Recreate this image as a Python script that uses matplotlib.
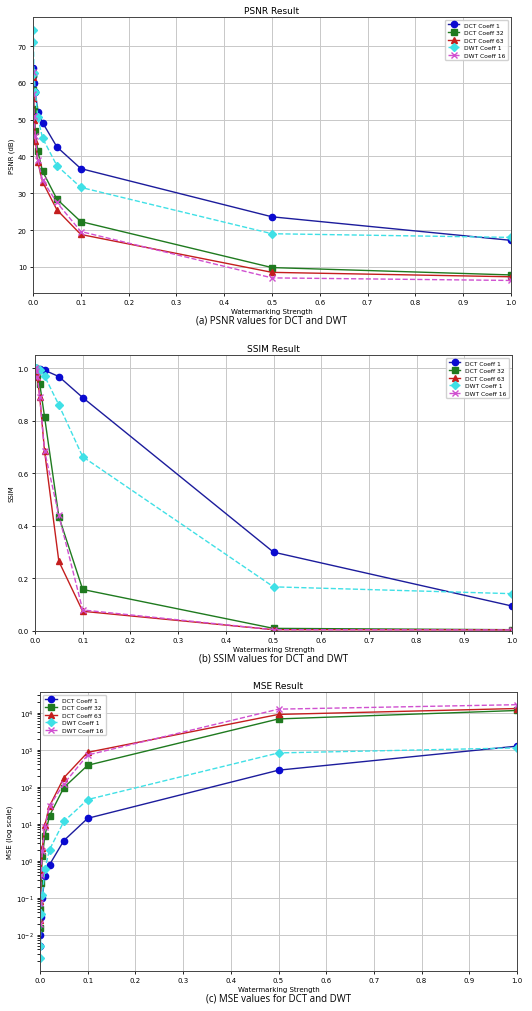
import matplotlib
matplotlib.use("Agg")
import matplotlib.pyplot as plt

# ===== DU LIEU =====
strengths = [0.0005, 0.001, 0.002, 0.005, 0.01, 0.02, 0.05, 0.1, 0.5, 1.0]
labels = ["DCT Coeff 1", "DCT Coeff 32", "DCT Coeff 63", "DWT Coeff 1", "DWT Coeff 16"]

psnr_dct1 = [64.0, 62.0, 60.0, 57.5, 52.2, 49.2, 42.6, 36.7, 23.6, 17.2]
psnr_dct32 = [62.5, 58.0, 53.0, 47.0, 41.4, 36.0, 28.4, 22.3, 9.8, 7.8]
psnr_dct63 = [61.5, 56.0, 50.0, 44.3, 38.5, 33.1, 25.5, 18.8, 8.5, 7.3]
psnr_dwt1 = [74.5, 71.2, 62.6, 57.6, 50.6, 45.0, 37.5, 31.6, 19.0, 18.0]
psnr_dwt16 = [63.0, 57.0, 51.0, 45.5, 39.0, 33.5, 27.5, 19.6, 7.0, 6.3]

ssim_dct1 = [1.0, 1.0, 0.999, 0.998, 0.996, 0.992, 0.968, 0.888, 0.300, 0.095]
ssim_dct32 = [0.999, 0.998, 0.992, 0.975, 0.940, 0.815, 0.435, 0.158, 0.010, 0.005]
ssim_dct63 = [0.999, 0.995, 0.985, 0.965, 0.890, 0.685, 0.265, 0.075, 0.005, 0.004]
ssim_dwt1 = [1.0, 1.0, 0.999, 0.998, 0.993, 0.970, 0.860, 0.663, 0.168, 0.142]
ssim_dwt16 = [0.999, 0.996, 0.988, 0.968, 0.890, 0.685, 0.440, 0.080, 0.005, 0.004]

mse_dct1 = [0.005, 0.01, 0.03, 0.1, 0.38, 0.78, 3.5, 14.0, 280.0, 1250.0]
mse_dct32 = [0.015, 0.05, 0.25, 1.3, 4.6, 16.5, 95.0, 380.0, 6800.0, 11500.0]
mse_dct63 = [0.025, 0.08, 0.5, 2.2, 9.0, 30.0, 175.0, 850.0, 9000.0, 13000.0]
mse_dwt1 = [0.0023, 0.005, 0.036, 0.115, 0.58, 2.0, 11.5, 45.0, 820.0, 1120.0]
mse_dwt16 = [0.02, 0.07, 0.4, 1.8, 8.0, 30.0, 120.0, 720.0, 12500.0, 16500.0]
mse_ticks = [1e-2, 1e-1, 1e0, 1e1, 1e2, 1e3, 1e4]

# ===== KIEU DUONG =====
styles = [
    dict(color="#1c1c9c", marker="o", linestyle="-", markerfacecolor="#0a0ad0", markeredgecolor="#0a0ad0"),
    dict(color="#1f7a1f", marker="s", linestyle="-"),
    dict(color="#c41e1e", marker="^", linestyle="-"),
    dict(color="#3fe0e6", marker="D", linestyle="--"),
    dict(color="#d050d0", marker="x", linestyle="--"),
]

fig = plt.figure(figsize=(5.32, 10.12), dpi=100)
W, H = 532.0, 1012.0


def ve(rect, data, title, ylabel, caption, log=False, legend_loc="upper right", ylim=None):
    l, t, r, b = rect
    ax = fig.add_axes([l / W, 1 - b / H, (r - l) / W, (b - t) / H])
    for ys, lab, st in zip(data, labels, styles):
        ax.plot(strengths, ys, label=lab, linewidth=1.0, markersize=4.5, **st)
    if log:
        ax.set_yscale("log")
        lo, hi = ax.get_ylim()
        ax.set_yticks(mse_ticks)
        ax.set_ylim(lo, hi)
    ax.set_xlim(0, 1.0)
    if ylim is not None:
        ax.set_ylim(*ylim)
    ax.set_xticks([i / 10 for i in range(11)])
    ax.grid(True, color="#c8c8c8", linewidth=0.7)
    ax.tick_params(labelsize=5, length=2.5, width=0.6, pad=2)
    for s in ax.spines.values():
        s.set_linewidth(0.7)
        s.set_color("#444444")
    ax.set_title(title, fontsize=6.5, pad=3)
    ax.set_xlabel("Watermarking Strength", fontsize=5, labelpad=2)
    ax.set_ylabel(ylabel, fontsize=5, labelpad=2)
    ax.legend(loc=legend_loc, fontsize=4.3, handlelength=2.0, borderpad=0.4,
              labelspacing=0.4, framealpha=0.9)
    fig.text((l + r) / 2 / W, 1 - (b + 27) / H, caption, ha="center", va="center",
             fontsize=7, family="Open Sans")
    return ax


ve((33, 18, 511, 294), [psnr_dct1, psnr_dct32, psnr_dct63, psnr_dwt1, psnr_dwt16],
   "PSNR Result", "PSNR (dB)", "(a) PSNR values for DCT and DWT")
ve((35, 356, 512, 632), [ssim_dct1, ssim_dct32, ssim_dct63, ssim_dwt1, ssim_dwt16],
   "SSIM Result", "SSIM", "(b) SSIM values for DCT and DWT", ylim=(0, 1.05))
ve((40, 693, 517, 972), [mse_dct1, mse_dct32, mse_dct63, mse_dwt1, mse_dwt16],
   "MSE Result", "MSE (log scale)", "(c) MSE values for DCT and DWT", log=True,
   legend_loc="upper left")

fig.savefig("out.png", dpi=100, facecolor="white")
